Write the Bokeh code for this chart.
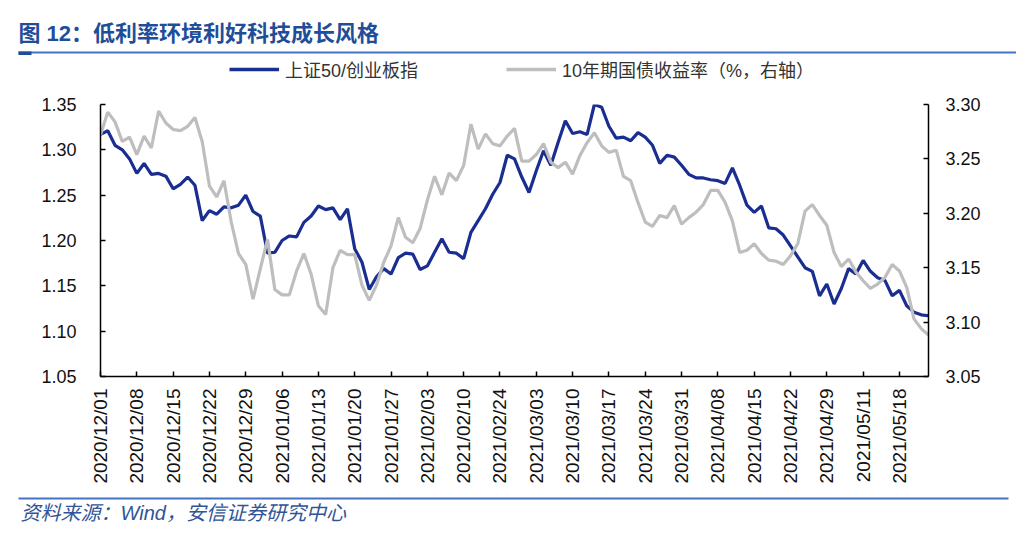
import math
from bokeh.plotting import figure
from bokeh.layouts import column
from bokeh.models import (Range1d, LinearAxis, FixedTicker, Legend, LegendItem,
                          PrintfTickFormatter)
from bokeh.core.properties import value
from bokeh.embed import file_html
from bokeh.resources import INLINE

# ---- data ----
tick_labels = ["2020/12/01", "2020/12/08", "2020/12/15", "2020/12/22", "2020/12/29",
               "2021/01/06", "2021/01/13", "2021/01/20", "2021/01/27", "2021/02/03",
               "2021/02/10", "2021/02/24", "2021/03/03", "2021/03/10", "2021/03/17",
               "2021/03/24", "2021/03/31", "2021/04/08", "2021/04/15", "2021/04/22",
               "2021/04/29", "2021/05/11", "2021/05/18"]
tick_step = 5

sz50_cyb = [1.317, 1.321, 1.305, 1.300, 1.290, 1.274, 1.285, 1.273, 1.274, 1.271,
            1.257, 1.262, 1.270, 1.261, 1.222, 1.233, 1.229, 1.237, 1.236, 1.239,
            1.250, 1.232, 1.227, 1.186, 1.187, 1.200, 1.205, 1.204, 1.220, 1.227,
            1.238, 1.234, 1.236, 1.223, 1.235, 1.191, 1.176, 1.146, 1.160, 1.169,
            1.163, 1.181, 1.186, 1.185, 1.168, 1.172, 1.187, 1.202, 1.187, 1.186,
            1.180, 1.209, 1.222, 1.235, 1.251, 1.264, 1.294, 1.290, 1.270, 1.253,
            1.277, 1.299, 1.283, 1.308, 1.332, 1.318, 1.320, 1.317, 1.350, 1.347,
            1.326, 1.313, 1.314, 1.310, 1.319, 1.314, 1.305, 1.285, 1.294, 1.292,
            1.283, 1.273, 1.269, 1.269, 1.267, 1.266, 1.263, 1.280, 1.261, 1.239,
            1.231, 1.238, 1.214, 1.213, 1.206, 1.194, 1.182, 1.170, 1.166, 1.139,
            1.152, 1.130, 1.147, 1.169, 1.163, 1.178, 1.166, 1.159, 1.156, 1.139,
            1.145, 1.128, 1.121, 1.118, 1.117]

cgb_10y = [3.272, 3.293, 3.284, 3.266, 3.270, 3.254, 3.271, 3.260, 3.294, 3.283,
           3.277, 3.276, 3.280, 3.288, 3.266, 3.225, 3.215, 3.230, 3.192, 3.163,
           3.153, 3.121, 3.149, 3.176, 3.130, 3.125, 3.125, 3.147, 3.163, 3.144,
           3.115, 3.107, 3.150, 3.166, 3.162, 3.162, 3.134, 3.120, 3.134, 3.155,
           3.170, 3.196, 3.178, 3.173, 3.186, 3.212, 3.234, 3.217, 3.237, 3.230,
           3.244, 3.282, 3.259, 3.273, 3.264, 3.262, 3.271, 3.278, 3.248, 3.248,
           3.254, 3.264, 3.247, 3.242, 3.247, 3.236, 3.253, 3.265, 3.274, 3.262,
           3.256, 3.258, 3.234, 3.230, 3.210, 3.192, 3.188, 3.198, 3.196, 3.207,
           3.190, 3.196, 3.201, 3.208, 3.221, 3.221, 3.210, 3.193, 3.164, 3.166,
           3.172, 3.163, 3.157, 3.156, 3.153, 3.161, 3.172, 3.202, 3.208, 3.198,
           3.189, 3.164, 3.151, 3.158, 3.146, 3.138, 3.131, 3.135, 3.141, 3.153,
           3.147, 3.132, 3.103, 3.094, 3.088]

left_ticks = [1.05, 1.10, 1.15, 1.20, 1.25, 1.30, 1.35]
right_ticks = [3.05, 3.10, 3.15, 3.20, 3.25, 3.30]

series_names = ["上证50/创业板指", "10年期国债收益率（%，右轴）"]
title_text = "图 12：低利率环境利好科技成长风格"
source_text = "资料来源：Wind，安信证券研究中心"

# ---- styling ----
W = 1016
FONT = "Liberation Sans, Noto Sans CJK SC"
BLUE = "#1A2D90"
GRAY = "#BEBEBE"
RULE = "#4472C4"
TITLE_C = "#1F4E99"


def blank_fig(h):
    f = figure(width=W, height=h, output_backend="svg", toolbar_location=None,
               x_range=Range1d(0, W), y_range=Range1d(h, 0),
               x_axis_location=None, y_axis_location=None, min_border=0)
    f.frame_align = False
    f.outline_line_color = None
    f.grid.visible = False
    f.background_fill_color = "white"
    f.border_fill_color = "white"
    return f


# ---- header (title, rule, legend) ----
top = blank_fig(90)
top.text(x=[18], y=[33], text=[title_text], text_font=value(FONT),
         text_font_size="22px", text_font_style="bold", text_color=TITLE_C,
         text_baseline="middle", text_align="left")
top.quad(left=[18], right=[W], top=[51], bottom=[53], fill_color=RULE, line_color=None)
top.quad(left=[18], right=[31], top=[51], bottom=[54.5], fill_color=TITLE_C, line_color=None)
# legend proxies drawn outside the visible range
lg1 = top.line([-50, -40], [-50, -50], line_color=BLUE, line_width=3.5)
lg2 = top.line([-50, -40], [-50, -50], line_color=GRAY, line_width=3.5)
legend = Legend(items=[LegendItem(label=series_names[0], renderers=[lg1]),
                       LegendItem(label=series_names[1], renderers=[lg2])],
                location=(229, 8), orientation="horizontal",
                glyph_width=50, glyph_height=20, label_height=20, label_standoff=6,
                spacing=88, padding=0, margin=0, border_line_color=None,
                background_fill_alpha=0,
                label_text_font=FONT, label_text_font_size="18px",
                label_text_color="#333333")
top.add_layout(legend)

# ---- main chart ----
n = len(sz50_cyb)
xs = list(range(n))
FRAME_RIGHT = 928
p = figure(width=W, height=400, output_backend="svg", toolbar_location=None,
           x_range=Range1d(0, n - 1), y_range=Range1d(left_ticks[0], left_ticks[-1]),
           min_border_left=100, min_border_right=W - FRAME_RIGHT,
           min_border_top=14, min_border_bottom=114)
p.frame_align = False
p.extra_y_ranges = {"right": Range1d(right_ticks[0], right_ticks[-1])}
p.outline_line_color = None
p.grid.grid_line_color = None
p.background_fill_color = "white"
p.border_fill_color = "white"

p.line(xs, sz50_cyb, line_color=BLUE, line_width=3.2)
p.line(xs, cgb_10y, line_color=GRAY, line_width=3.2, y_range_name="right")

right_axis = LinearAxis(y_range_name="right")
p.add_layout(right_axis, "right")

p.yaxis[0].ticker = FixedTicker(ticks=left_ticks)
right_axis.ticker = FixedTicker(ticks=right_ticks)
for ax in p.yaxis:
    ax.formatter = PrintfTickFormatter(format="%.2f")

xt = list(range(0, n, tick_step))[:len(tick_labels)]
p.xaxis.ticker = FixedTicker(ticks=xt)
p.xaxis.major_label_overrides = {t: lab for t, lab in zip(xt, tick_labels)}
p.xaxis.major_label_orientation = math.pi / 2

for ax in list(p.xaxis) + list(p.yaxis):
    ax.axis_line_color = "#000000"
    ax.axis_line_width = 1.5
    ax.major_tick_line_color = "#000000"
    ax.major_tick_line_width = 1.5
    ax.major_tick_in = 5
    ax.major_tick_out = 0
    ax.minor_tick_line_color = None
    ax.major_label_text_font = "Liberation Sans"
    ax.major_label_text_color = "#111111"
p.xaxis.major_label_text_font_size = "19px"
p.xaxis.major_label_standoff = 12
for ax in p.yaxis:
    ax.major_label_text_font_size = "18px"
p.yaxis[0].major_label_standoff = 24
right_axis.major_label_standoff = 17

# ---- footer (rule, source) ----
bot = blank_fig(36)
bot.quad(left=[18], right=[1008], top=[7], bottom=[9], fill_color=RULE, line_color=None)
bot.text(x=[20], y=[22], text=[source_text], text_font=value(FONT),
         text_font_size="20px", text_font_style="italic", text_color="#2F5597",
         text_baseline="middle", text_align="left")

layout = column(top, p, bot, spacing=0)
open("out.html", "w").write(file_html(layout, INLINE))
